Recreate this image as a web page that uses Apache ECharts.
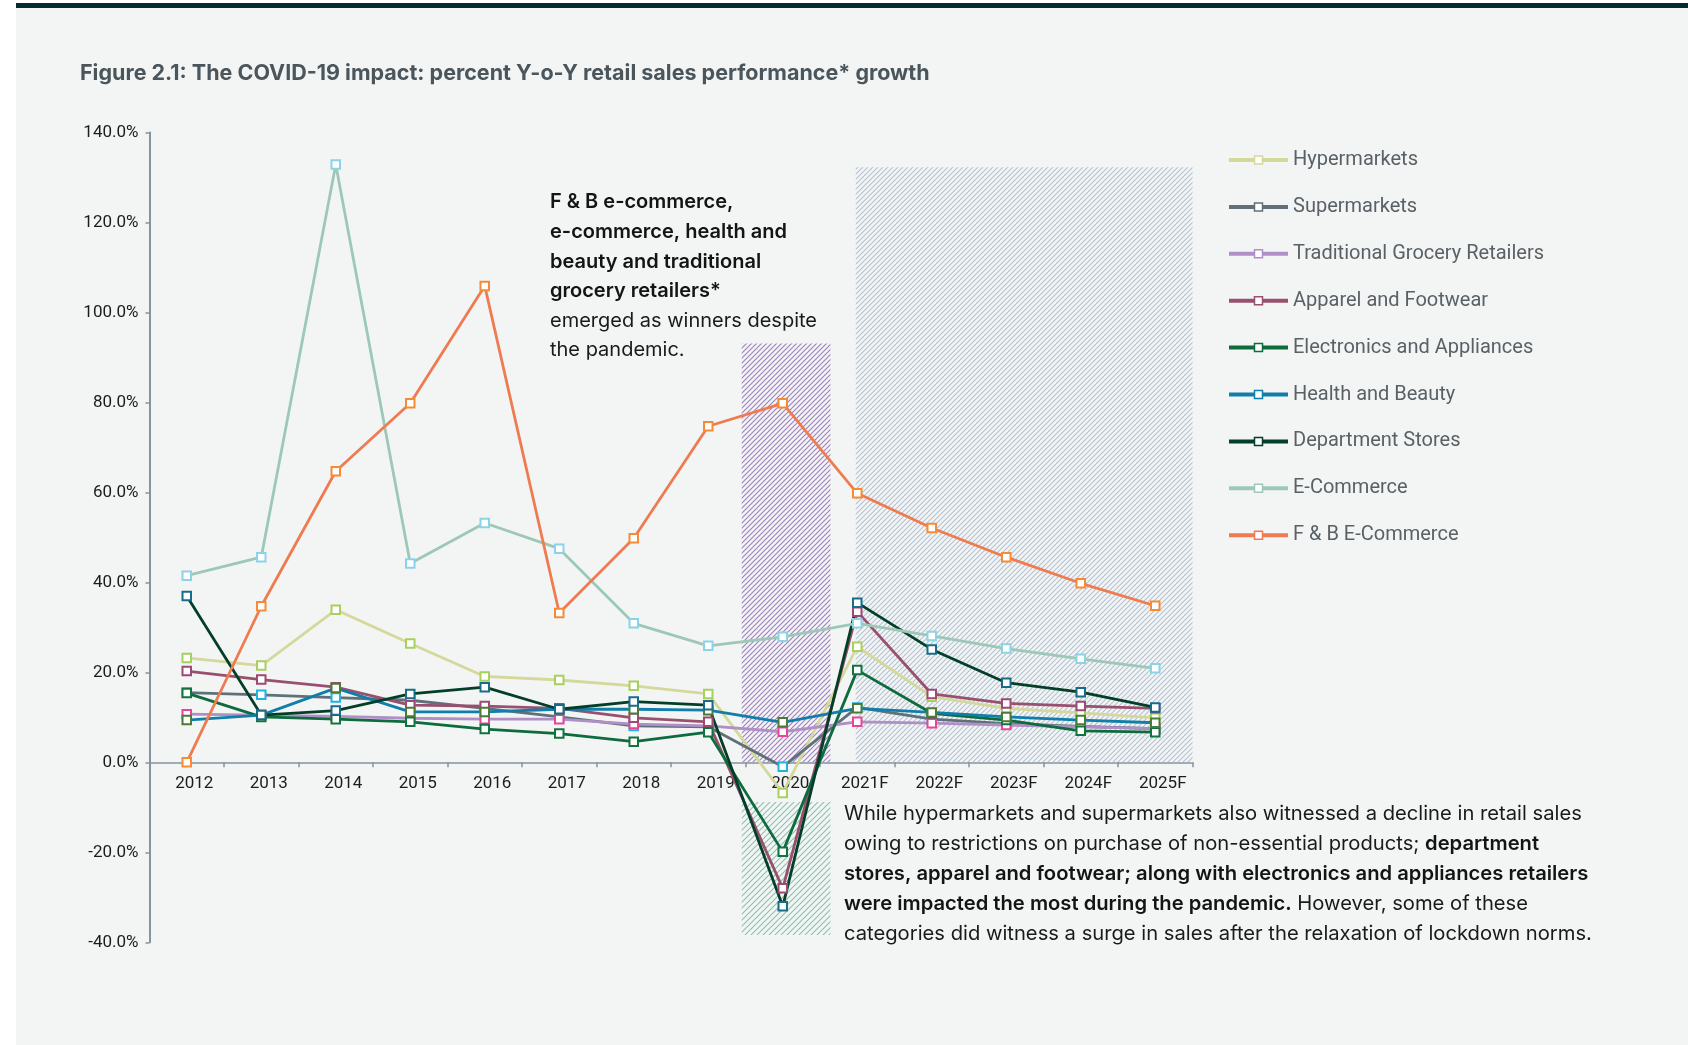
<!DOCTYPE html>
<html><head><meta charset="utf-8">
<script src="https://cdn.jsdelivr.net/npm/echarts@6/dist/echarts.min.js"></script>
<style>
html,body{margin:0;padding:0;background:#fff;overflow:hidden;}
#bg{position:absolute;left:16px;top:8px;width:1672px;height:1037px;background:#f3f5f4;}
#bar{position:absolute;left:16px;top:3px;width:1672px;height:5px;background:#062b2f;}
#chart{position:absolute;left:0;top:0;width:1688px;height:1045px;}
</style></head><body>
<div id="bg"></div><div id="bar"></div><div id="chart"></div>
<script>
// ---------- data ----------
const categories = ['2012','2013','2014','2015','2016','2017','2018','2019','2020','2021F','2022F','2023F','2024F','2025F'];
const yTicks = { min: -40, max: 140, step: 20 };

const hypermarkets   = [23.2, 21.5, 33.9, 26.4, 19.1, 18.3, 17.0, 15.2, -6.8, 25.7, 14.6, 12.0, 11.0, 9.9];
const supermarkets   = [15.5, 15.0, 14.4, 13.8, 12.0, 10.1, 8.1, 7.9, -1.0, 12.2, 9.6, 8.6, 8.0, 7.5];
const tradGrocery    = [10.7, 10.5, 10.2, 9.8, 9.6, 9.6, 8.5, 8.1, 6.8, 9.0, 8.7, 8.3, 7.9, 7.5];
const apparel        = [20.3, 18.4, 16.7, 12.7, 12.5, 12.0, 9.9, 9.0, -28.0, 33.5, 15.2, 13.1, 12.5, 12.0];
const electronics    = [15.4, 10.1, 9.6, 9.0, 7.4, 6.4, 4.6, 6.7, -19.9, 20.5, 10.9, 9.4, 7.0, 6.7];
const healthBeauty   = [9.4, 10.5, 16.5, 11.2, 11.2, 11.8, 11.8, 11.6, 8.9, 12.0, 11.1, 10.1, 9.4, 8.8];
const deptStores     = [37.0, 10.5, 11.5, 15.2, 16.7, 11.8, 13.5, 12.7, -32.0, 35.5, 25.1, 17.7, 15.6, 12.2];
const eCommerce      = [41.5, 45.6, 132.9, 44.2, 53.2, 47.5, 30.9, 25.9, 27.9, 30.9, 28.1, 25.3, 23.0, 20.9];
const fbECommerce    = [0, 34.7, 64.7, 79.8, 105.9, 33.2, 49.8, 74.7, 79.8, 59.8, 52.1, 45.6, 39.8, 34.8];

const seriesNames = ['Hypermarkets','Supermarkets','Traditional Grocery Retailers','Apparel and Footwear',
  'Electronics and Appliances','Health and Beauty','Department Stores','E-Commerce','F & B E-Commerce'];
const seriesValues = [hypermarkets, supermarkets, tradGrocery, apparel, electronics, healthBeauty, deptStores, eCommerce, fbECommerce];

// highlighted periods, in category-index / percent units: [xStart, yTop, xEnd, yBottom]
const bandRanges = [
  [7.45, 93.1, 8.64, 0],
  [7.45, -8.8, 8.64, -38.4],
  [8.98, 132.3, 13.5, 0]
];

// ---------- styles ----------
const lineColors   = ['#d5d89b','#5f707a','#b08fc6','#99506f','#0e6b3e','#117ea9','#033f28','#9dc8b7','#ef7b50'];
const markerColors = ['#a9cf5c','#1eb3e0','#e8449a','#9c4a74','#11743f','#4c7b35','#186b89','#8cd2e8','#f78a35'];
const bandColors   = ['#a083c0','#8cc3b2','#b3c1d2'];

function hatch(color, step, lw) {
  const c = document.createElement('canvas');
  c.width = step; c.height = step;
  const g = c.getContext('2d');
  g.strokeStyle = color; g.lineWidth = lw;
  g.beginPath();
  g.moveTo(-1, step + 1); g.lineTo(step + 1, -1);
  g.moveTo(-1, 1); g.lineTo(1, -1);
  g.moveTo(step - 1, step + 1); g.lineTo(step + 1, step - 1);
  g.stroke();
  return c;
}
const bandPatterns = [hatch(bandColors[0], 5, 1.2), hatch(bandColors[1], 6, 1.2), hatch(bandColors[2], 5, 1.1)];

const chart = echarts.init(document.getElementById('chart'), null, { renderer: 'canvas' });

const lineSeries = seriesNames.map((name, i) => ({
  name, type: 'line', data: seriesValues[i],
  xAxisIndex: 0, yAxisIndex: 0,
  symbol: 'rect', symbolSize: 8.5, showAllSymbol: true,
  lineStyle: { color: lineColors[i], width: 2.8 },
  itemStyle: { color: '#ffffff', borderColor: markerColors[i], borderWidth: 2 },
  emphasis: { disabled: true },
  z: 3
}));

const axisGrey = '#8693a0';
const option = {
  backgroundColor: 'transparent',
  animation: false,
  grid: { left: 149.5, top: 132.5, right: 495.5, bottom: 102.7, containLabel: false },
  xAxis: [{
    type: 'category', data: categories, boundaryGap: true,
    axisLine: { onZero: false, lineStyle: { color: axisGrey, width: 1.5 } },
    axisTick: { show: true, length: 5, inside: false, lineStyle: { color: axisGrey, width: 1.5 } },
    axisLabel: { color: '#1c1c1c', fontSize: 17, fontFamily: 'Roboto', margin: 12.5, padding: [0, 0, 0, 15] },
    splitLine: { show: false }
  }, {
    type: 'value', min: -0.5, max: 13.5, show: false
  }],
  yAxis: [{
    type: 'value', min: yTicks.min, max: yTicks.max, interval: yTicks.step,
    axisLine: { show: true, onZero: false, lineStyle: { color: axisGrey, width: 2 } },
    axisTick: { show: true, length: 4, lineStyle: { color: axisGrey, width: 1.5 } },
    axisLabel: { color: '#1c1c1c', fontSize: 17, fontFamily: 'Roboto', margin: 11,
      formatter: v => v.toFixed(1) + '%' },
    splitLine: { show: false }
  }],
  legend: {
    orient: 'vertical', left: 1227, top: 150, padding: 0,
    itemWidth: 59, itemHeight: 10, itemGap: 26.9,
    selectedMode: false,
    lineStyle: { width: 4 },
    textStyle: { fontFamily: 'Roboto', fontSize: 20, color: '#596166', lineHeight: 20 },
    data: seriesNames.map((n, i) => ({
      name: n,
      itemStyle: { color: '#ffffff', borderColor: lineColors[i], borderWidth: 1.5 },
      lineStyle: { color: lineColors[i], width: 4 }
    }))
  },
  graphic: [
    { type: 'text', x: 80, y: 74, silent: true,
      style: { text: 'Figure 2.1: The COVID-19 impact: percent Y-o-Y retail sales performance* growth',
        fontFamily: 'Inter', fontSize: 21.5, fontWeight: 700, fill: '#4a565b', verticalAlign: 'middle', align: 'left' } },
    { type: 'text', x: 550, y: 187.5, silent: true,
      style: {
        text: '{b|F & B e-commerce,}\n{b|e-commerce, health and}\n{b|beauty and traditional}\n{b|grocery retailers*}\n{r|emerged as winners despite}\n{r|the pandemic.}',
        verticalAlign: 'top', align: 'left',
        rich: {
          b: { fontFamily: 'Inter', fontSize: 20, fontWeight: 600, fill: '#141414', color: '#141414', lineHeight: 29.6 },
          r: { fontFamily: 'Inter', fontSize: 20, fontWeight: 400, fill: '#1a1a1a', color: '#1a1a1a', lineHeight: 29.6 }
        }
      } },
    { type: 'text', x: 844, y: 798.5, silent: true,
      style: {
        text: '{r|While hypermarkets and supermarkets also witnessed a decline in retail sales}\n' +
              '{r|owing to restrictions on purchase of non-essential products; }{b|department}\n' +
              '{b|stores, apparel and footwear; along with electronics and appliances retailers}\n' +
              '{b|were impacted the most during the pandemic.}{r| However, some of these}\n' +
              '{r|categories did witness a surge in sales after the relaxation of lockdown norms.}',
        verticalAlign: 'top', align: 'left',
        rich: {
          b: { fontFamily: 'Inter', fontSize: 20.2, fontWeight: 600, fill: '#141414', color: '#141414', lineHeight: 30.1 },
          r: { fontFamily: 'Inter', fontSize: 20.2, fontWeight: 400, fill: '#1a1a1a', color: '#1a1a1a', lineHeight: 30.1 }
        }
      } }
  ],
  series: [{
    type: 'custom', name: 'bands', xAxisIndex: 1, yAxisIndex: 0, silent: true, z: 1,
    data: bandRanges,
    encode: { x: [0, 2], y: [1, 3] },
    renderItem: function (params, api) {
      const p0 = api.coord([api.value(0), api.value(1)]);
      const p1 = api.coord([api.value(2), api.value(3)]);
      return {
        type: 'rect',
        shape: { x: p0[0], y: p0[1], width: p1[0] - p0[0], height: p1[1] - p0[1] },
        style: { fill: { image: bandPatterns[params.dataIndex], repeat: 'repeat' } }
      };
    }
  }].concat(lineSeries)
};
chart.setOption(option);

// move the category axis (line, ticks and labels) to the 0% level, using the axis scale
const zeroPx = chart.convertToPixel({ yAxisIndex: 0 }, 0);
const minPx = chart.convertToPixel({ yAxisIndex: 0 }, yTicks.min);
chart.setOption({ xAxis: [{ offset: zeroPx - minPx }, {}] });
</script>
</body></html>
